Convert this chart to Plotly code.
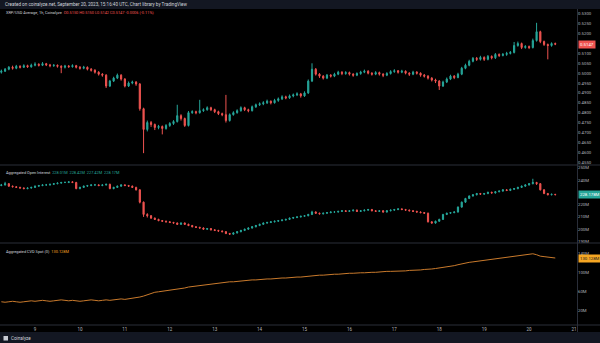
import plotly.graph_objects as go
import pandas as pd

# ---------------- data (2-hour candles, Sep 8 06:00 UTC -> Sep 20 14:00 UTC) ----------------
start_time = "2023-09-08 06:00"

# XRP/USD price in units of 0.0001 USD
price_open0 = 5005
price_close = [
    5010, 5020, 5030, 5025, 5035, 5030, 5038, 5032, 5040, 5045,
    5040, 5048, 5042, 5038, 5040, 5035, 5030, 5036, 5033, 5038,
    5030, 5025, 5030, 5020, 5015, 5005, 4995, 4990, 4935, 4960,
    4975, 4990, 4970, 4935, 4950, 4955, 4945, 4820, 4715, 4750,
    4740, 4725, 4730, 4720, 4735, 4745, 4755, 4785, 4770, 4735,
    4800, 4805, 4800, 4810, 4815, 4825, 4815, 4805, 4795, 4790,
    4760, 4790, 4800, 4810, 4825, 4815, 4810, 4830, 4840, 4845,
    4850, 4858, 4850, 4862, 4870, 4880, 4875, 4885, 4890, 4895,
    4885, 4900, 4960, 5020, 4995, 4985, 4975, 4990, 4985, 4995,
    5005, 4998, 5003, 4995, 4990, 4998, 5005, 5010, 5000, 4995,
    5003, 4995, 4990, 4998, 5008, 5012, 5005, 5010, 5000, 4995,
    5005, 5000, 4990, 4985, 4975, 4965, 4960, 4935, 4955, 4970,
    4985, 4978, 4995, 5025, 5040, 5060, 5075, 5070, 5080, 5070,
    5085, 5078, 5095, 5090, 5095, 5100, 5105, 5140, 5150, 5130,
    5135, 5130, 5165, 5210, 5160, 5145, 5140, 5150, 5147]
price_high = [
    5018, 5026, 5036, 5038, 5042, 5040, 5045, 5043, 5048, 5055,
    5050, 5056, 5052, 5047, 5046, 5044, 5040, 5042, 5041, 5045,
    5042, 5036, 5037, 5034, 5026, 5020, 5010, 5000, 4995, 4966,
    4982, 4998, 4995, 4975, 4958, 4962, 4960, 4950, 4825, 4760,
    4758, 4745, 4738, 4735, 4742, 4752, 4762, 4840, 4792, 4775,
    4808, 4812, 4810, 4865, 4822, 4832, 4830, 4820, 4810, 4800,
    4890, 4796, 4807, 4817, 4832, 4830, 4820, 4836, 4846, 4852,
    4858, 4866, 4862, 4870, 4877, 4888, 4886, 4892, 4897, 4903,
    4900, 4908, 4968, 5050, 5026, 5000, 4990, 4996, 4995, 5002,
    5012, 5010, 5010, 5008, 5000, 5004, 5012, 5018, 5015, 5005,
    5010, 5008, 5000, 5005, 5015, 5020, 5016, 5017, 5014, 5005,
    5012, 5010, 5004, 4996, 4990, 4980, 4972, 4965, 4962, 4978,
    4992, 4990, 5002, 5032, 5048, 5068, 5082, 5082, 5088, 5085,
    5092, 5090, 5102, 5100, 5102, 5108, 5112, 5158, 5160, 5155,
    5142, 5140, 5175, 5255, 5215, 5165, 5150, 5156, 5155]
price_low = [
    4998, 5006, 5015, 5018, 5020, 5024, 5026, 5027, 5028, 5035,
    5034, 5036, 5036, 5030, 5032, 5028, 5000, 5024, 5027, 5028,
    5024, 5018, 5020, 5014, 5008, 4998, 4988, 4982, 4925, 4930,
    4955, 4970, 4962, 4928, 4930, 4944, 4936, 4810, 4595, 4705,
    4728, 4712, 4716, 4690, 4714, 4728, 4738, 4750, 4760, 4728,
    4730, 4794, 4792, 4795, 4804, 4810, 4808, 4798, 4788, 4782,
    4750, 4755, 4785, 4795, 4805, 4808, 4802, 4806, 4824, 4834,
    4838, 4844, 4842, 4846, 4855, 4864, 4868, 4870, 4878, 4884,
    4876, 4880, 4895, 4955, 4988, 4976, 4968, 4970, 4978, 4980,
    4990, 4990, 4992, 4988, 4982, 4985, 4992, 5000, 4994, 4988,
    4990, 4988, 4980, 4985, 4993, 5002, 4998, 5000, 4994, 4986,
    4990, 4993, 4982, 4978, 4968, 4958, 4950, 4915, 4930, 4950,
    4965, 4970, 4974, 4990, 5020, 5035, 5055, 5062, 5064, 5062,
    5065, 5070, 5072, 5082, 5085, 5088, 5095, 5100, 5134, 5122,
    5124, 5122, 5125, 5160, 5152, 5138, 5070, 5134, 5142]

# Aggregated open interest, millions USD
oi_open0 = 235.5
oi_close = [
    236, 237, 235, 234.5, 234, 233.5, 233, 233.5, 234, 235,
    235.5, 236, 236, 236.5, 237, 237.5, 238, 238, 238.5, 238,
    233, 234, 235, 235.5, 236, 236, 235.5, 236, 236.5, 233,
    234, 235, 236, 235.5, 235, 234, 232, 222, 212, 211,
    209, 208, 207, 206.5, 206, 205.5, 205, 204, 205, 204,
    203, 202, 201.5, 201, 200, 200.5, 199.5, 199, 198.5, 198,
    196.5, 196, 197, 198, 199, 200, 201, 202, 203, 204,
    205, 205.5, 206, 206.5, 207, 207.5, 208, 209, 209.5, 210,
    210.5, 211, 212, 214, 213, 212.5, 213, 213.5, 214, 214,
    214.5, 215, 214.5, 215, 215.5, 214.5, 215, 215.5, 216, 215,
    214.5, 215, 214, 215, 215.5, 216, 216.5, 216, 215.5, 215,
    214.5, 214, 213.5, 213, 206, 205, 206.5, 208, 212, 213,
    213.5, 214, 218, 222, 225, 227, 228, 229, 228.5, 229,
    230, 229.5, 230.5, 231, 232, 231.5, 232.5, 233, 234, 235,
    236, 237, 238, 237, 232, 229, 228, 228.4, 228.17]
oi_high = [
    236.8, 238.5, 237.5, 235.5, 235, 234.5, 234, 234, 234.5, 235.5,
    236, 236.5, 236.8, 237, 237.5, 238, 238.5, 238.8, 239, 239,
    238.5, 234.5, 235.5, 236, 236.5, 236.8, 236.5, 236.5, 237, 237,
    234.5, 235.5, 236.5, 236.5, 236, 235.5, 234.5, 232.5, 222.5, 213,
    211.5, 209.5, 208.5, 207.5, 207, 206.5, 206, 205.5, 205.5, 205.5,
    204.5, 203.5, 202.5, 202, 201.5, 201, 201, 200, 199.5, 199,
    198.5, 197, 197.5, 198.5, 199.5, 200.5, 201.5, 202.5, 203.5, 204.5,
    205.5, 206, 206.5, 207, 207.5, 208, 208.5, 209.5, 210, 210.5,
    211, 211.5, 212.5, 215, 214.5, 213.5, 213.5, 214, 214.5, 214.8,
    215, 215.5, 215.5, 215.5, 216, 216, 215.5, 216, 216.5, 216.5,
    215.5, 215.5, 215.5, 215.5, 216, 216.5, 217, 217, 216.5, 216,
    215.5, 215, 214.5, 214, 213.5, 206.5, 207, 208.5, 212.5, 213.5,
    214, 214.5, 218.5, 222.5, 225.5, 227.5, 228.5, 229.5, 229.5, 229.5,
    230.5, 230.5, 231, 231.5, 232.5, 232.5, 233, 233.5, 234.5, 235.5,
    236.5, 237.5, 241, 238.5, 237.5, 232.5, 229.5, 228.9, 228.42]
oi_low = [
    235, 235.5, 234.5, 234, 233.5, 233, 232.5, 232.5, 233, 233.5,
    234.5, 235, 235.5, 235.5, 236, 236.5, 237, 237.5, 237.5, 237.5,
    232.5, 232.5, 233.5, 234.5, 235, 235.5, 235, 235, 235.5, 232.5,
    232.5, 233.5, 234.5, 235, 234.5, 233.5, 231.5, 221, 210, 209.5,
    208.5, 207.5, 206.5, 206, 205.5, 205, 204.5, 203.5, 203.5, 203.5,
    202.5, 201.5, 201, 200.5, 199.5, 199.5, 199, 198.5, 198, 197.5,
    196, 195.5, 195.5, 196.5, 197.5, 198.5, 199.5, 200.5, 201.5, 202.5,
    203.5, 204.5, 205, 205.5, 206, 206.5, 207, 207.5, 208.5, 209,
    209.5, 210, 210.5, 211.5, 212.5, 212, 212, 212.5, 213, 213.5,
    213.5, 214, 214, 214, 214.5, 214, 214, 214.5, 215, 214.5,
    214, 214, 213.5, 213.5, 214.5, 215, 215.5, 215.5, 215, 214.5,
    214, 213.5, 213, 212.5, 205.5, 204.5, 204.5, 206, 207.5, 211.5,
    212.5, 213, 213.5, 217.5, 221.5, 224.5, 226.5, 227.5, 228, 228,
    228.5, 229, 229, 230, 230.5, 231, 231, 232, 232.5, 233.5,
    234.5, 235.5, 236.5, 236, 231.5, 228.5, 227.5, 227.5, 227.42]

# Aggregated CVD spot, millions
cvd = [
    38, 37, 38, 39, 38, 37, 38, 39, 40, 39,
    40, 41, 40, 39, 40, 41, 42, 41, 40, 41,
    40, 39, 40, 41, 42, 41, 40, 41, 42, 41,
    42, 43, 44, 43, 44, 45, 46, 48, 50, 53,
    56, 58, 59, 60, 61, 62, 63, 65, 66, 67,
    69, 70, 72, 73, 74, 75, 76, 76, 77, 78,
    79, 80, 80, 81, 82, 83, 83, 84, 84, 85,
    85, 86, 86, 87, 87, 88, 88, 89, 89, 90,
    90, 91, 92, 93, 93, 94, 94, 95, 95, 96,
    96, 97, 97, 98, 98, 99, 99, 99, 100, 100,
    100, 101, 101, 102, 102, 102, 103, 103, 103, 104,
    104, 105, 105, 106, 106, 107, 108, 109, 110, 111,
    112, 114, 116, 118, 120, 121, 122, 123, 124, 125,
    126, 127, 128, 129, 130, 131, 132, 133, 134, 135,
    136, 138, 139, 137, 134, 133, 132, 131, 130.128]

# axis labels (the 0.5150 and 230M slots sit under the last-value badges)
price_ticks = [0.4550, 0.4600, 0.4650, 0.4700, 0.4750, 0.4800, 0.4850, 0.4900,
               0.4950, 0.5000, 0.5050, 0.5100, 0.5200, 0.5250, 0.5300]
oi_ticks = [190, 200, 210, 220, 240, 250]
cvd_ticks = [20, 60, 100, 140]
day_ticks = ["2023-09-%02d" % d for d in range(9, 22)]
day_labels = [str(d) for d in range(9, 22)]

# ---------------- build ----------------
W, H = 600, 343
def X(px): return px / W
def Y(py): return 1 - py / H

UP, DN = "#26a69a", "#ef5350"
ORANGE = "#f5a623"
TXT = "#b2b5be"
FONT = "Roboto"

times = pd.date_range(start_time, periods=len(price_close), freq="2h")
sc = 1e-4
p_open = [price_open0] + price_close[:-1]
o_open = [oi_open0] + oi_close[:-1]

fig = go.Figure()
fig.add_trace(go.Candlestick(
    x=times, open=[v * sc for v in p_open], high=[v * sc for v in price_high],
    low=[v * sc for v in price_low], close=[v * sc for v in price_close],
    xaxis="x", yaxis="y", whiskerwidth=0, hoverinfo="skip", showlegend=False,
    increasing=dict(line=dict(color=UP, width=1), fillcolor=UP),
    decreasing=dict(line=dict(color=DN, width=1), fillcolor=DN)))
fig.add_trace(go.Candlestick(
    x=times, open=o_open, high=oi_high, low=oi_low, close=oi_close,
    xaxis="x2", yaxis="y2", whiskerwidth=0, hoverinfo="skip", showlegend=False,
    increasing=dict(line=dict(color=UP, width=1), fillcolor=UP),
    decreasing=dict(line=dict(color=DN, width=1), fillcolor=DN)))
fig.add_trace(go.Scatter(
    x=times, y=cvd, mode="lines", xaxis="x3", yaxis="y3",
    line=dict(color="#c97a2c", width=1), hoverinfo="skip", showlegend=False))

XDOM = [0, X(577)]
xr = ["2023-09-08 05:17", "2023-09-21 01:36"]
def xax(**kw):
    d = dict(range=xr, domain=XDOM, showgrid=False, zeroline=False, showline=False,
             rangeslider=dict(visible=False), type="date", ticks="")
    d.update(kw)
    return d
def yax(dom, rng, tv, tt, anchor):
    return dict(domain=dom, range=rng, side="right", anchor=anchor, tickvals=tv, ticktext=tt,
                showgrid=False, zeroline=False, showline=False, ticks="",
                tickfont=dict(family=FONT, size=4.3, color=TXT))

fig.update_layout(
    width=W, height=H, autosize=False, margin=dict(l=0, r=0, t=0, b=0),
    paper_bgcolor="#000000", plot_bgcolor="#000000",
    font=dict(family=FONT, color=TXT), boxgap=0.55,
    xaxis=xax(anchor="y", showticklabels=False),
    xaxis2=xax(anchor="y2", matches="x", showticklabels=False),
    xaxis3=xax(anchor="y3", matches="x", tickvals=day_ticks, ticktext=day_labels,
               tickfont=dict(family=FONT, size=4.5, color=TXT)),
    yaxis=yax([Y(165), Y(9)], [0.4535, 0.5325], price_ticks, ["%.4f" % v for v in price_ticks], "x"),
    yaxis2=yax([Y(243), Y(165)], [188.8, 252.2], oi_ticks, ["%dM" % v for v in oi_ticks], "x2"),
    yaxis3=yax([Y(325), Y(243)], [-10.9, 161.7], cvd_ticks, ["%dM" % v for v in cvd_ticks], "x3"),
)

LINE = "#2a2e39"
NAVY = "#131722"
shapes = [
    dict(type="rect", xref="paper", yref="paper", x0=0, x1=1, y0=Y(9), y1=1,
         fillcolor=NAVY, line=dict(width=0), layer="above"),
    dict(type="rect", xref="paper", yref="paper", x0=0, x1=1, y0=0, y1=Y(332),
         fillcolor=NAVY, line=dict(width=0), layer="above"),
]
for yy in (165, 243, 325):
    shapes.append(dict(type="line", xref="paper", yref="paper", x0=0, x1=1, y0=Y(yy), y1=Y(yy),
                       line=dict(color=LINE, width=1), layer="above"))
shapes.append(dict(type="line", xref="paper", yref="paper", x0=X(577.5), x1=X(577.5), y0=Y(332), y1=Y(9),
                   line=dict(color=LINE, width=1), layer="above"))
shapes.append(dict(type="rect", xref="paper", yref="paper", x0=X(3.5), x1=X(8), y0=Y(340.5), y1=Y(336),
                   fillcolor="#c9ccd4", line=dict(width=0), layer="above"))
fig.update_layout(shapes=shapes)

def label(x, y, text, size=4.3, color=TXT, **kw):
    d = dict(xref="paper", yref="paper", x=X(x), y=Y(y), text=text, showarrow=False,
             xanchor="left", yanchor="middle", font=dict(family=FONT, size=size, color=color))
    d.update(kw)
    return d

ann = [
    label(3, 4.5, "Created on coinalyze.net, September 20, 2023, 15:16:40 UTC, Chart library by TradingView",
          size=4.6, color="#d1d4dc"),
    label(4, 13, "XRP/USD Average, 1h, Coinalyze&nbsp;&nbsp;<span style='color:%s'>O0.5150 H0.5150 L0.5142 C0.5147 -0.0006 (-0.11%%)</span>" % DN,
          size=3.9, color="#d1d4dc"),
    label(4, 172, "Aggregated Open Interest&nbsp;&nbsp;<span style='color:%s'>228.01M&nbsp;&nbsp;228.42M&nbsp;&nbsp;227.42M&nbsp;&nbsp;228.17M</span>" % UP,
          size=3.9, color="#d1d4dc"),
    label(4, 251, "Aggregated CVD Spot (0)&nbsp;&nbsp;<span style='color:%s'>130.128M</span>" % ORANGE,
          size=3.9, color="#d1d4dc"),
    label(9, 338.5, "Coinalyze", size=4.6, color="#d1d4dc"),
    dict(xref="paper", yref="y", x=X(578), y=0.5147, text="0.5147", showarrow=False, xanchor="left",
         yanchor="middle", bgcolor=DN, borderpad=1, font=dict(family=FONT, size=4.3, color="#ffffff")),
    dict(xref="paper", yref="y2", x=X(578), y=228.17, text="228.178M", showarrow=False, xanchor="left",
         yanchor="middle", bgcolor=UP, borderpad=1, font=dict(family=FONT, size=4.3, color="#ffffff")),
    dict(xref="paper", yref="y3", x=X(578), y=130.128, text="130.128M", showarrow=False, xanchor="left",
         yanchor="middle", bgcolor=ORANGE, borderpad=1, font=dict(family=FONT, size=4.3, color="#131722")),
]
fig.update_layout(annotations=ann)

fig.write_html("out.html")
